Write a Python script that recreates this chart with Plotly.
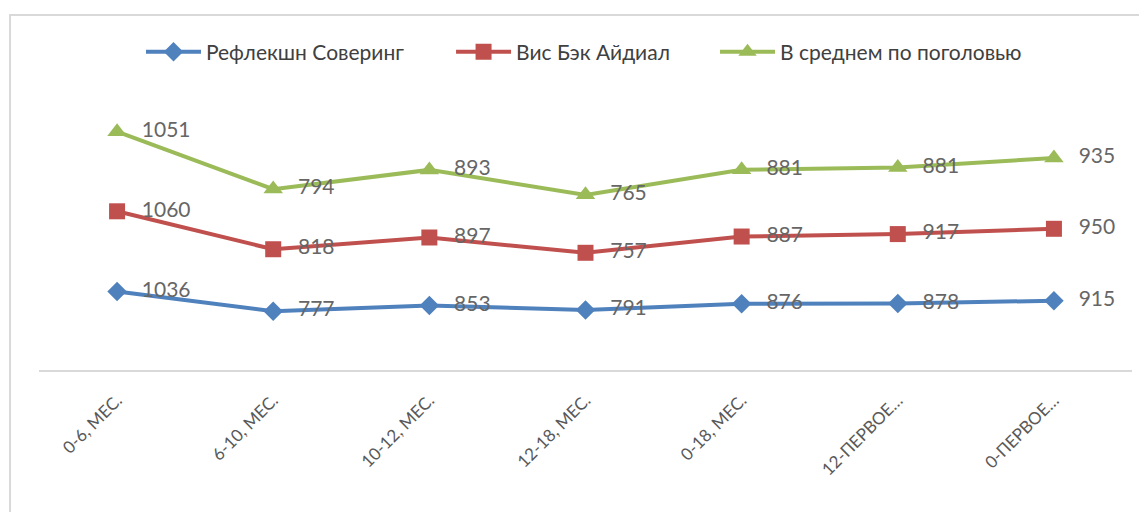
import plotly.graph_objects as go

categories = ["0-6, МЕС.", "6-10, МЕС.", "10-12, МЕС.", "12-18, МЕС.", "0-18, МЕС.", "12-ПЕРВОЕ…", "0-ПЕРВОЕ…"]
series_names = ["Рефлекшн Соверинг", "Вис Бэк Айдиал", "В среднем по поголовью"]
reflection = [1036, 777, 853, 791, 876, 878, 915]
visback = [1060, 818, 897, 757, 887, 917, 950]
average = [1051, 794, 893, 765, 881, 881, 935]

series_values = [reflection, visback, average]
colors = ["#4F81BD", "#C0504D", "#9BBB59"]
symbols = ["diamond", "square", "triangle-up"]
msizes = [15, 16, 17]
legend_ids = ["legend", "legend2", "legend3"]
legend_x = [0.0933, 0.377, 0.6185]

FONT = "Lato, 'Liberation Sans', sans-serif"

fig = go.Figure()
for name, vals, col, sym, ms, lg in zip(series_names, series_values, colors, symbols, msizes, legend_ids):
    fig.add_trace(go.Scatter(
        x=categories, y=vals, name=name, stackgroup="lines", fill="none",
        mode="lines+markers", line=dict(color=col, width=4),
        marker=dict(symbol=sym, size=ms, color=col),
        hoverinfo="skip", legend=lg,
    ))
for name, vals in zip(series_names, series_values):
    fig.add_trace(go.Scatter(
        x=categories, y=vals, stackgroup="labels", fill="none",
        mode="markers+text", text=[str(v) for v in vals],
        textposition="middle right",
        textfont=dict(family=FONT, size=21, color="#666666"),
        marker=dict(size=38, opacity=0), line=dict(width=0),
        showlegend=False, hoverinfo="skip",
    ))

legend_style = dict(orientation="h", xanchor="left", y=1.2, yanchor="middle",
                    font=dict(family=FONT, size=21, color="#404040"), itemwidth=55,
                    bgcolor="rgba(0,0,0,0)", borderwidth=0)

fig.update_layout(
    width=1139, height=504,
    margin=dict(l=31, r=15, t=97, b=142),
    paper_bgcolor="white", plot_bgcolor="white",
    font=dict(family=FONT, color="#595959"),
    showlegend=True,
    legend=dict(x=legend_x[0], **legend_style),
    legend2=dict(x=legend_x[1], **legend_style),
    legend3=dict(x=legend_x[2], **legend_style),
    xaxis=dict(range=[-0.5, 6.5], showgrid=False, zeroline=False,
               showline=True, linecolor="#d9d9d9", linewidth=1.5,
               tickangle=-45, ticks="outside", ticklen=12, tickcolor="rgba(0,0,0,0)",
               tickfont=dict(family=FONT, size=17, color="#595959")),
    yaxis=dict(range=[0, 3500], visible=False, showgrid=False, zeroline=False),
    shapes=[dict(type="rect", xref="paper", yref="paper", x0=-0.0265, x1=1.2, y0=-1, y1=1.34,
                 line=dict(color="#d9d9d9", width=2), fillcolor="rgba(0,0,0,0)", layer="below")],
)

fig.write_html("out.html")
